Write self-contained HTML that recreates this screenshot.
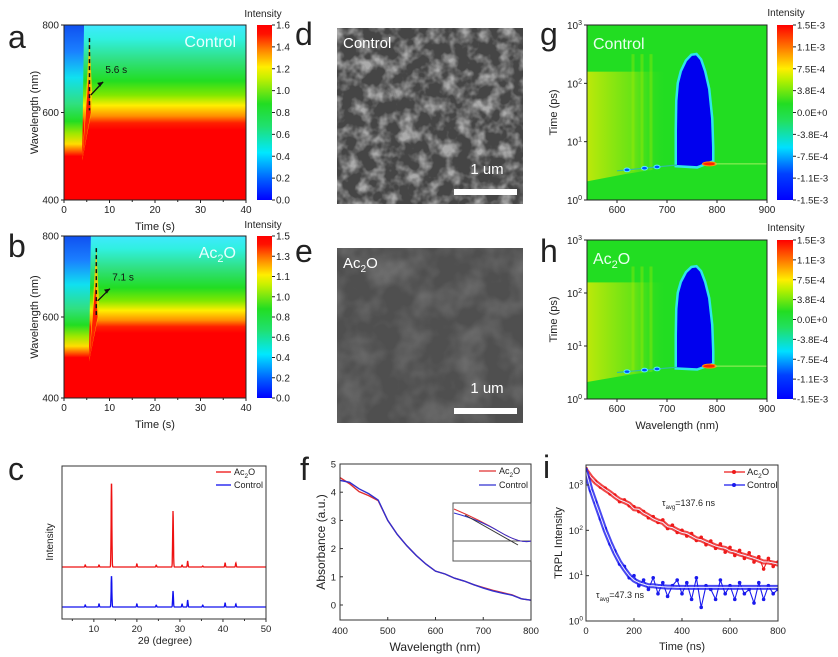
<!DOCTYPE html>
<html><head><meta charset="utf-8"><style>
html,body{margin:0;padding:0;background:#fff;}
svg{display:block;font-family:"Liberation Sans",Arial,sans-serif;}
</style></head><body>
<svg id="fig" width="838" height="657" viewBox="0 0 838 657" xmlns="http://www.w3.org/2000/svg">
<defs>
<linearGradient id="cbar" x1="0" y1="1" x2="0" y2="0">
<stop offset="0" stop-color="#0000ff"/><stop offset="0.12" stop-color="#0060ff"/><stop offset="0.27" stop-color="#00e8ff"/><stop offset="0.42" stop-color="#20e070"/><stop offset="0.55" stop-color="#22dd22"/><stop offset="0.7" stop-color="#c8f000"/><stop offset="0.76" stop-color="#ffee00"/><stop offset="0.86" stop-color="#ff8000"/><stop offset="0.95" stop-color="#ff1000"/><stop offset="1" stop-color="#ff0000"/>
</linearGradient>
<linearGradient id="cbar2" x1="0" y1="1" x2="0" y2="0">
<stop offset="0" stop-color="#0000ff"/><stop offset="0.15" stop-color="#0040ff"/><stop offset="0.3" stop-color="#00e0ff"/><stop offset="0.45" stop-color="#22e060"/><stop offset="0.55" stop-color="#22dd22"/><stop offset="0.68" stop-color="#b0f000"/><stop offset="0.75" stop-color="#ffee00"/><stop offset="0.88" stop-color="#ff7000"/><stop offset="1" stop-color="#ff0000"/>
</linearGradient>
<linearGradient id="rightA" x1="0" y1="0" x2="0" y2="1">
<stop offset="0" stop-color="#40e8ff"/><stop offset="0.08" stop-color="#30f0e0"/><stop offset="0.2" stop-color="#30e080"/><stop offset="0.32" stop-color="#22dd22"/><stop offset="0.4" stop-color="#80e800"/><stop offset="0.46" stop-color="#ffee00"/><stop offset="0.52" stop-color="#ff9000"/><stop offset="0.56" stop-color="#ff2000"/><stop offset="0.6" stop-color="#ff0000"/><stop offset="1" stop-color="#ff0000"/>
</linearGradient>
<linearGradient id="leftA" x1="0" y1="0" x2="0" y2="1">
<stop offset="0" stop-color="#1050f0"/><stop offset="0.15" stop-color="#1a80ff"/><stop offset="0.3" stop-color="#10e0f0"/><stop offset="0.45" stop-color="#30e080"/><stop offset="0.55" stop-color="#22dd22"/><stop offset="0.62" stop-color="#a0e800"/><stop offset="0.68" stop-color="#ffdd00"/><stop offset="0.72" stop-color="#ff6000"/><stop offset="0.75" stop-color="#ff0000"/><stop offset="1" stop-color="#ff0000"/>
</linearGradient>
<linearGradient id="yelTint" x1="0" y1="0" x2="1" y2="0">
<stop offset="0" stop-color="#ffee00" stop-opacity="0.7"/><stop offset="0.6" stop-color="#ddee00" stop-opacity="0.35"/><stop offset="1" stop-color="#22dd22" stop-opacity="0"/>
</linearGradient>
<filter id="sem1" x="0" y="0" width="100%" height="100%">
<feTurbulence type="fractalNoise" baseFrequency="0.07" numOctaves="3" seed="4"/>
<feColorMatrix type="matrix" values="0 0 0 0 1 0 0 0 0 1 0 0 0 0 1 2.6 0 0 0 -1.05"/>
</filter>
<filter id="sem2" x="0" y="0" width="100%" height="100%">
<feTurbulence type="fractalNoise" baseFrequency="0.035" numOctaves="3" seed="9"/>
<feColorMatrix type="matrix" values="0 0 0 0 1 0 0 0 0 1 0 0 0 0 1 1.2 0 0 0 -0.45"/>
</filter>
<clipPath id="clipC"><rect x="62" y="466" width="204" height="153"/></clipPath>
<clipPath id="clipF"><rect x="340" y="464" width="191" height="156"/></clipPath>
<clipPath id="clipI"><rect x="586" y="465" width="192" height="156"/></clipPath>
<clipPath id="clipG"><rect x="587" y="25" width="180" height="175"/></clipPath>
<clipPath id="clipH"><rect x="587" y="240" width="180" height="159"/></clipPath>
<clipPath id="clipA"><rect x="64" y="25" width="182" height="175"/></clipPath>
<clipPath id="clipB"><rect x="64" y="236" width="182" height="162"/></clipPath>
</defs>
<g id="root"></g>
</svg>
<script>
// ---------- DATA ----------
const heatTicksX = [0,10,20,30,40];
const heatTicksY = [400,600,800];
const onsetA = 5.6, onsetB = 7.1;
const cbarLabelsA = ["1.6","1.4","1.2","1.0","0.8","0.6","0.4","0.2","0.0"];
const cbarLabelsB = ["1.5","1.3","1.1","1.0","0.8","0.6","0.4","0.2","0.0"];
const cbarLabelsG = ["1.5E-3","1.1E-3","7.5E-4","3.8E-4","0.0E+0","-3.8E-4","-7.5E-4","-1.1E-3","-1.5E-3"];
const xrdTicks = [10,20,30,40,50];
const xrdPeakPos = [8.0,11.2,14.1,20.0,24.5,28.4,30.5,31.8,35.3,40.5,43.0];
const xrdAc2O   = [2,2,85,3,2,56,2,6,1,4,4];
const xrdControl= [2,3,31,3,2,16,3,7,2,4,3];
const absWl = [400,420,440,460,480,500,520,540,560,580,600,620,640,660,680,700,720,740,760,780,800];
const absAc2O   = [4.52,4.3,4.02,3.88,3.7,3.0,2.5,2.1,1.75,1.45,1.2,1.1,0.95,0.85,0.72,0.62,0.52,0.44,0.36,0.22,0.17];
const absControl= [4.42,4.35,4.12,3.95,3.72,3.0,2.5,2.1,1.75,1.45,1.2,1.1,0.95,0.85,0.72,0.6,0.5,0.42,0.35,0.22,0.17];
const absTicksY = [0,1,2,3,4,5];
const absTicksX = [400,500,600,700,800];
const trplT = [0,20,40,60,80,100,120,140,160,180,200,220,240,260,280,300,320,340,360,380,400,420,440,460,480,500,520,540,560,580,600,620,640,660,680,700,720,740,760,780,800];
const trplAc2O = [2100,1500,1150,950,800,680,560,470,430,380,300,290,240,210,180,160,150,120,115,100,90,85,75,65,62,55,50,45,42,40,35,33,30,28,26,24,22,20,20,19,18];
const trplAc2OMeas = [2300,1450,1200,900,850,640,600,430,470,350,330,260,260,190,200,150,170,110,130,90,100,75,85,60,70,48,58,40,50,33,42,28,36,24,32,20,26,14,24,16,20];
const trplCtrl = [2000,800,400,200,100,55,32,20,14,10,8,7,6.5,6,6,5.8,5.7,5.6,5.6,5.5,5.5,5.5,5.5,5.5,5.5,5.5,5.5,5.5,5.5,5.5,5.5,5.5,5.5,5.5,5.5,5.5,5.5,5.5,5.5,5.5,5.5];
const trplCtrlMeas = [2200,750,420,180,110,50,35,18,16,9,10,6,8,5,9,4,7,3.5,6,8,4,7,3,9,2,6,5,3,8,4,6,3,7,4,5,2.5,7,3,6,4,5];
const trplTicksX = [0,200,400,600,800];
const trplTicksY = [0,1,2,3];
const gTicksX = [600,700,800,900];
const gTicksY = [0,1,2,3];
const blobWl = [720,720,721,724,730,740,750,758,766,774,782,788,790,790,760];
const blobLogT = [0.6,1.2,1.7,2.0,2.2,2.38,2.47,2.48,2.4,2.2,1.9,1.4,0.9,0.68,0.58];

// ---------- helpers ----------
const NS="http://www.w3.org/2000/svg";
const root=document.getElementById('root');
function mk(tag,attrs,parent){const e=document.createElementNS(NS,tag);for(const k in attrs)e.setAttribute(k,attrs[k]);(parent||root).appendChild(e);return e;}
function txt(x,y,s,size,anchor,parent,extra){const e=mk('text',Object.assign({x:x,y:y,'font-size':size,'text-anchor':anchor||'start',fill:'#222'},extra||{}),parent);e.textContent=s;return e;}
function lin(d0,d1,r0,r1){return v=>r0+(v-d0)*(r1-r0)/(d1-d0);}

// panel letters
[['a',8,48],['b',8,257],['c',8,480],['d',295,45],['e',295,262],['f',300,480],['g',540,45],['h',540,262],['i',543,478]].forEach(p=>{
 const t=txt(p[1],p[2],p[0],32,'start');
 
 
});

// ---------- heatmap a/b ----------
function heatAB(id,y0,y1,onset,labels,grad){
 const g=mk('g',{});
 
 
 const sx=lin(0,40,64,246), sy=lin(400,800,y1,y0);
 const cg=mk('g',{'clip-path':'url(#clip'+id.toUpperCase()+')'},g);
 mk('rect',{x:64,y:y0,width:182,height:y1-y0,fill:'url(#rightA)'},cg);
 const lx=sx(onset-1.2);
 mk('path',{d:`M64 ${y0} L${lx} ${y0} L${sx(onset-1.6)} ${sy(500)} L${sx(onset-1.8)} ${y1} L64 ${y1}Z`,fill:'url(#leftA)'},cg);
 mk('path',{d:`M${sx(onset-1.6)} ${sy(490)} L${sx(onset)} ${sy(770)} L${sx(onset+0.6)} ${sy(640)} L${sx(onset+0.4)} ${sy(600)}Z`,fill:'#ffcc00',opacity:0.9},cg);
 mk('path',{d:`M${sx(onset-1.6)} ${sy(490)} L${sx(onset-0.2)} ${sy(680)} L${sx(onset+0.3)} ${sy(600)}Z`,fill:'#ff2000'},cg);
 mk('rect',{x:64,y:y0,width:182,height:y1-y0,fill:'none',stroke:'#222','stroke-width':1},g);
 const dl=mk('line',{x1:sx(onset),y1:sy(770),x2:sx(onset),y2:sy(605),stroke:'#111','stroke-width':1.5,'stroke-dasharray':'4,3'},g);
 
 
 mk('line',{x1:sx(onset+0.3),y1:sy(640),x2:sx(onset+3),y2:sy(670),stroke:'#111','stroke-width':1.3},g);
 mk('path',{d:`M${sx(onset+3)} ${sy(670)} l-6 1 l3 4z`,fill:'#111'},g);
 txt(sx(onset+3.5),sy(690),onset+' s',10,'start',g,{fill:'#111'});
 const lab=txt(236,y0+22,id==='a'?'Control':'',16,'end',g,{fill:'#e8ffff'});
 if(id==='b'){lab.innerHTML='Ac<tspan font-size="11" dy="4">2</tspan><tspan dy="-4">O</tspan>';}
 heatTicksX.forEach(v=>{mk('line',{x1:sx(v),y1:y1,x2:sx(v),y2:y1+3,stroke:'#222'},g);txt(sx(v),y1+13,v,10,'middle',g);});
 [5,15,25,35].forEach(v=>mk('line',{x1:sx(v),y1:y1,x2:sx(v),y2:y1+2,stroke:'#222'},g));
 heatTicksY.forEach(v=>{mk('line',{x1:64,y1:sy(v),x2:61,y2:sy(v),stroke:'#222'},g);txt(59,sy(v)+3.5,v,10,'end',g);});
 txt(155,y1+30,'Time (s)',11,'middle',g);
 txt(0,0,'Wavelength (nm)',11,'middle',g,{transform:`translate(38,${(y0+y1)/2}) rotate(-90)`});
 const cb=mk('g',{},g);
 
 
 mk('rect',{x:257,y:y0,width:15,height:y1-y0,fill:'url(#'+grad+')'},cb);
 labels.forEach((l,i)=>{const yy=y0+i*(y1-y0)/(labels.length-1);mk('line',{x1:272,y1:yy,x2:275,y2:yy,stroke:'#222'},cb);txt(276,yy+3.5,l,10,'start',cb);});
 txt(263,y0-8,'Intensity',10,'middle',cb);
}
heatAB('a',25,200,onsetA,cbarLabelsA,'cbar');
heatAB('b',236,398,onsetB,cbarLabelsB,'cbar');

// ---------- SEM images ----------
function sem(id,y0,y1,label,filt,base,bright){
 const g=mk('g',{});
 
 
 mk('rect',{x:337,y:y0,width:186,height:y1-y0,fill:base},g);
 mk('rect',{x:337,y:y0,width:186,height:y1-y0,filter:'url(#'+filt+')',opacity:bright},g);
 const t=txt(343,y0+20,label,15,'start',g,{fill:'#fff'});
 if(label==='Ac2O'){t.innerHTML='Ac<tspan font-size="10" dy="4">2</tspan><tspan dy="-4">O</tspan>';}
 txt(487,y0+(y1-y0)-30,'1 um',15,'middle',g,{fill:'#fff'});
 const sb=mk('rect',{x:454,y:y1-15,width:63,height:6,fill:'#fff'},g);
 
 
}
sem('d',28,204,'Control','sem1','#454545',0.55);
sem('e',248,423,'Ac2O','sem2','#4f4f4f',0.3);

// ---------- g/h TA maps ----------
function ta(id,y0,y1,label){
 const g=mk('g',{});
 
 
 const sx=lin(540,900,587,767), sy=lin(0,3,y1,y0);
 const cg=mk('g',{'clip-path':'url(#clip'+id.toUpperCase()+')'},g);
 mk('rect',{x:587,y:y0,width:180,height:y1-y0,fill:'#22dd22'},cg);
 mk('rect',{x:587,y:sy(2.2),width:sx(700)-587,height:sy(0.3)-sy(2.2),fill:'url(#yelTint)'},cg);
 [632,650,668].forEach(w=>mk('rect',{x:sx(w)-1.5,y:sy(2.5),width:3,height:sy(0.5)-sy(2.5),fill:'#a8ea00',opacity:0.35},cg));
 mk('path',{d:`M587 ${sy(0.32)} L${sx(620)} ${sy(0.45)} L${sx(720)} ${sy(0.58)} L767 ${sy(0.63)} L767 ${y1} L587 ${y1}Z`,fill:'#22dd22'},cg);
 const pts=blobWl.map((w,i)=>sx(w)+' '+sy(blobLogT[i])).join(' L');
 mk('path',{d:'M'+pts+'Z',fill:'#00c8ff',stroke:'#30e8ff','stroke-width':5,opacity:0.9},cg);
 const blob=mk('path',{d:'M'+pts+'Z',fill:'#0000ee'},cg);
 
 
 mk('line',{x1:sx(600),y1:sy(0.5),x2:sx(720),y2:sy(0.6),stroke:'#30c0a0','stroke-width':1.2},cg);
 [620,655,680].forEach(w=>mk('ellipse',{cx:sx(w),cy:sy(0.5+(w-600)/1200),rx:3,ry:1.8,fill:'#0050ff',stroke:'#50f0ff'},cg));
 mk('ellipse',{cx:sx(785),cy:sy(0.62),rx:7,ry:2,fill:'#ff2000',stroke:'#ff9000'},cg);
 mk('line',{x1:sx(795),y1:sy(0.62),x2:767,y2:sy(0.62),stroke:'#a0f060','stroke-width':1},cg);
 mk('rect',{x:587,y:y0,width:180,height:y1-y0,fill:'none',stroke:'#222'},g);
 const lab=txt(593,y0+24,label==='Control'?'Control':'',16,'start',g,{fill:'#e8fff0'});
 if(label==='Ac2O'){lab.innerHTML='Ac<tspan font-size="11" dy="4">2</tspan><tspan dy="-4">O</tspan>';}
 gTicksX.forEach(v=>{mk('line',{x1:sx(v),y1:y1,x2:sx(v),y2:y1+3,stroke:'#222'},g);txt(sx(v),y1+13,v,10,'middle',g);});
 gTicksY.forEach(v=>{mk('line',{x1:587,y1:sy(v),x2:584,y2:sy(v),stroke:'#222'},g);
  const t=txt(582,sy(v)+4,'',10,'end',g);t.innerHTML='10<tspan font-size="7" dy="-4">'+v+'</tspan>';});
 txt(0,0,'Time (ps)',11,'middle',g,{transform:`translate(557,${(y0+y1)/2}) rotate(-90)`});
 txt(677,y1+30,'Wavelength (nm)',11,'middle',g);
 const cb=mk('g',{},g);
 
 
 mk('rect',{x:777,y:y0,width:16,height:y1-y0,fill:'url(#cbar2)'},cb);
 cbarLabelsG.forEach((l,i)=>{const yy=y0+i*(y1-y0)/(cbarLabelsG.length-1);mk('line',{x1:793,y1:yy,x2:796,y2:yy,stroke:'#222'},cb);txt(797,yy+3.5,l,9.5,'start',cb);});
 txt(786,y0-9,'Intensity',10,'middle',cb);
}
ta('g',25,200,'Control');
mk('rect',{x:600,y:220,width:160,height:14,fill:'#fff'});
ta('h',240,399,'Ac2O');

// ---------- c XRD ----------
(function(){
 const g=mk('g',{});
 
 
 const sx=lin(2.6,50,62,266);
 const cg=mk('g',{'clip-path':'url(#clipC)'},g);
 function pattern(h,base,color,name){
  let d='';
  for(let t=2.6;t<=50;t+=0.04){
   let v=0;xrdPeakPos.forEach((p,i)=>{v+=h[i]*Math.exp(-Math.pow((t-p)/0.12,2));});
   d+=(d?'L':'M')+sx(t).toFixed(1)+' '+(base-v).toFixed(1);
  }
  const p=mk('path',{d:d,fill:'none',stroke:color,'stroke-width':1.3},cg);
  
  
 }
 pattern(xrdAc2O,567,'#ee1111','xrd-ac2o-line');
 pattern(xrdControl,607,'#1111ee','xrd-control-line');
 mk('rect',{x:62,y:466,width:204,height:153,fill:'none',stroke:'#333'},g);
 xrdTicks.forEach(v=>{mk('line',{x1:sx(v),y1:619,x2:sx(v),y2:622,stroke:'#333'},g);txt(sx(v),632,v,9.5,'middle',g);});
 [5,15,25,35,45].forEach(v=>mk('line',{x1:sx(v),y1:619,x2:sx(v),y2:621,stroke:'#333'},g));
 const t=txt(165,644,'',10.5,'middle',g);t.textContent='2θ (degree)';
 txt(0,0,'Intensity',10,'middle',g,{transform:'translate(53,542) rotate(-90)'});
 const lg=mk('g',{},g);
 
 
 mk('line',{x1:216,y1:472,x2:231,y2:472,stroke:'#ee1111','stroke-width':1.3},lg);
 const a=txt(234,475,'',9,'start',lg);a.innerHTML='Ac<tspan font-size="6.5" dy="3">2</tspan><tspan dy="-3">O</tspan>';
 mk('line',{x1:216,y1:485,x2:231,y2:485,stroke:'#1111ee','stroke-width':1.3},lg);
 txt(234,488,'Control',9,'start',lg);
})();

// ---------- f absorbance ----------
(function(){
 const g=mk('g',{});
 
 
 const sx=lin(400,800,340,531), sy=lin(0,5,605,464);
 const cg=mk('g',{'clip-path':'url(#clipF)'},g);
 [[absAc2O,'#e03030','abs-ac2o-line'],[absControl,'#3030d0','abs-control-line']].forEach(s=>{
  const p=mk('path',{d:absWl.map((w,i)=>(i?'L':'M')+sx(w)+' '+sy(s[0][i])).join(''),fill:'none',stroke:s[1],'stroke-width':1.4},cg);
  
  
 });
 mk('rect',{x:340,y:464,width:191,height:156,fill:'none',stroke:'#333'},g);
 const ins=mk('g',{},g);
 
 
 mk('rect',{x:453,y:503,width:78,height:58,fill:'#fff',stroke:'#555'},ins);
 mk('line',{x1:453,y1:541,x2:531,y2:541,stroke:'#555'},ins);
 mk('path',{d:'M454 509 Q480 520 500 532 T531 541',fill:'none',stroke:'#e03030'},ins);
 mk('path',{d:'M454 513 Q480 520 500 532 T531 541',fill:'none',stroke:'#3030d0'},ins);
 mk('path',{d:'M465 515 L518 545',fill:'none',stroke:'#333'},ins);
 absTicksX.forEach(v=>{mk('line',{x1:sx(v),y1:620,x2:sx(v),y2:617,stroke:'#333'},g);txt(sx(v),634,v,9.5,'middle',g);});
 absTicksY.forEach(v=>{mk('line',{x1:340,y1:sy(v),x2:343,y2:sy(v),stroke:'#333'},g);txt(336,sy(v)+3.5,v,9.5,'end',g);});
 txt(435,651,'Wavelength (nm)',12,'middle',g);
 txt(0,0,'Absorbance (a.u.)',12,'middle',g,{transform:'translate(325,542) rotate(-90)'});
 const lg=mk('g',{},g);
 
 
 mk('line',{x1:479,y1:471,x2:496,y2:471,stroke:'#e03030','stroke-width':1.3},lg);
 const a=txt(499,474,'',9,'start',lg);a.innerHTML='Ac<tspan font-size="6.5" dy="3">2</tspan><tspan dy="-3">O</tspan>';
 mk('line',{x1:479,y1:485,x2:496,y2:485,stroke:'#3030d0','stroke-width':1.3},lg);
 txt(499,488,'Control',9,'start',lg);
})();

// ---------- i TRPL ----------
(function(){
 const g=mk('g',{});
 
 
 const sx=lin(0,800,586,778), sy=v=>lin(0,3,621,485)(Math.log10(v));
 const cg=mk('g',{'clip-path':'url(#clipI)'},g);
 [[trplAc2OMeas,trplAc2O,'#ee1a1a','trpl-ac2o'],[trplCtrlMeas,trplCtrl,'#1a1aee','trpl-control']].forEach(s=>{
  const m=mk('path',{d:trplT.map((t,i)=>(i?'L':'M')+sx(t)+' '+sy(s[0][i])).join(''),fill:'none',stroke:s[2],'stroke-width':1.1},cg);
  
  
  trplT.forEach((t,i)=>{
   const c=mk('circle',{cx:sx(t),cy:sy(s[0][i]),r:1.8,fill:s[2]},cg);
   
   
  });
  mk('path',{d:trplT.map((t,i)=>(i?'L':'M')+sx(t)+' '+sy(s[1][i])).join(''),fill:'none',stroke:s[2],'stroke-width':5,opacity:0.8},cg);
  const f2=mk('path',{d:trplT.map((t,i)=>(i?'L':'M')+sx(t)+' '+sy(s[1][i])).join(''),fill:'none',stroke:'#f0f0ff','stroke-width':1},cg);
  
  
 });
 mk('rect',{x:586,y:465,width:192,height:156,fill:'none',stroke:'#333'},g);
 trplTicksX.forEach(v=>{mk('line',{x1:sx(v),y1:621,x2:sx(v),y2:618,stroke:'#333'},g);txt(sx(v),634,v,9.5,'middle',g);});
 trplTicksY.forEach(v=>{mk('line',{x1:586,y1:sy(Math.pow(10,v)),x2:589,y2:sy(Math.pow(10,v)),stroke:'#333'},g);
  const t=txt(583,sy(Math.pow(10,v))+3.5,'',9.5,'end',g);t.innerHTML='10<tspan font-size="6.5" dy="-4">'+v+'</tspan>';});
 txt(682,650,'Time (ns)',11,'middle',g);
 txt(0,0,'TRPL Intensity',11,'middle',g,{transform:'translate(562,543) rotate(-90)'});
 const a1=txt(662,506,'',9,'start',g);a1.innerHTML='τ<tspan font-size="6" dy="3">avg</tspan><tspan dy="-3">=137.6 ns</tspan>';
 const a2=txt(596,598,'',9,'start',g);a2.innerHTML='τ<tspan font-size="6" dy="3">avg</tspan><tspan dy="-3">=47.3 ns</tspan>';
 const lg=mk('g',{},g);
 
 
 mk('line',{x1:724,y1:472,x2:745,y2:472,stroke:'#ee1a1a','stroke-width':1.3},lg);
 mk('circle',{cx:734,cy:472,r:2,fill:'#ee1a1a'},lg);
 const la=txt(747,475,'',9.5,'start',lg);la.innerHTML='Ac<tspan font-size="6.5" dy="3">2</tspan><tspan dy="-3">O</tspan>';
 mk('line',{x1:724,y1:485,x2:745,y2:485,stroke:'#1a1aee','stroke-width':1.3},lg);
 mk('circle',{cx:734,cy:485,r:2,fill:'#1a1aee'},lg);
 txt(747,488,'Control',9.5,'start',lg);
})();
</script>
</body></html>
